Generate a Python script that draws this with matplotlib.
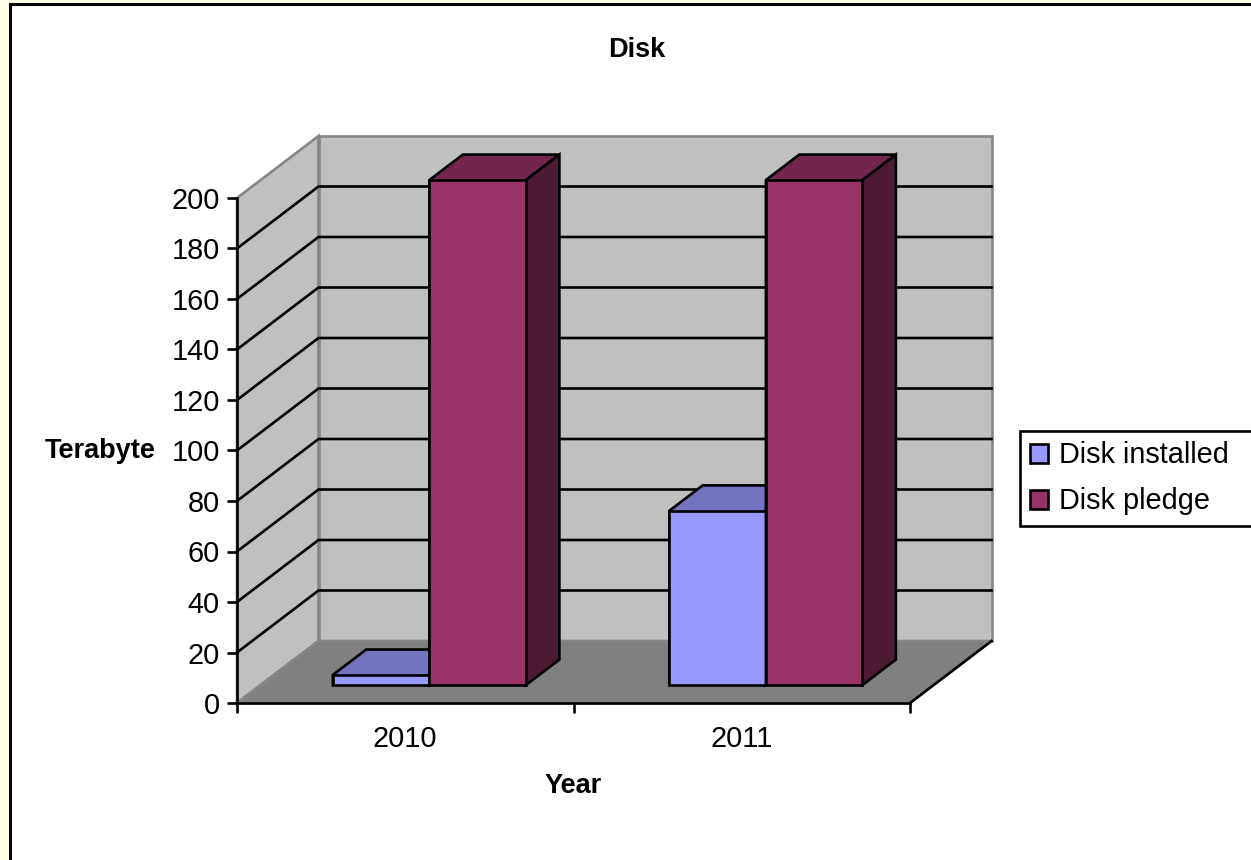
import matplotlib
matplotlib.use("Agg")
import matplotlib.pyplot as plt
from matplotlib.patches import Polygon, Rectangle

# Chart data
years = ["2010", "2011"]
series_names = ["Disk installed", "Disk pledge"]
disk_installed = [4, 69]
disk_pledge = [200, 200]
value_ticks = list(range(0, 201, 20))

# Colours: front, top and side shading for each series
installed_faces = ("#9999FF", "#7373BF", "#4D4D80")
pledge_faces = ("#993366", "#73264D", "#4D1A33")
WALL = "#C0C0C0"
FLOOR = "#808080"
EDGE_GREY = "#868686"
PAGE = "#FFFFE6"

W, H = 1251, 860
LW = 1.9
plt.rcParams["font.family"] = ["Liberation Sans", "DejaVu Sans"]

fig = plt.figure(figsize=(W / 100, H / 100), dpi=100, facecolor=PAGE)
# The white chart area runs off the right and bottom of the page
fig.patches.append(Rectangle((10 / W, -0.02), 1.02, 1.02 - 4 / H,
                             transform=fig.transFigure, facecolor="white",
                             edgecolor="black", linewidth=2.2, zorder=-5))

# Axes sit on the front plane of the box
ax = fig.add_axes([237 / W, 1 - 703 / H, 673 / W, 505 / H])
ax.set_xlim(0, len(years))
ax.set_ylim(0, 200)
ax.patch.set_alpha(0)

# Oblique projection: shift per unit of depth (0 front, 1 back) in data units
PX_X = 673 / len(years)
PX_Y = 505 / 200
DX = 81.5 / PX_X
DY = 62 / PX_Y


def project(x, y, depth=0.0):
    return (x + DX * depth, y + DY * depth)


def poly(points, **kw):
    kw.setdefault("linewidth", LW)
    kw.setdefault("joinstyle", "miter")
    ax.add_patch(Polygon(points, closed=True, clip_on=False, **kw))


x_max = len(years)
# Side wall, back wall and floor
poly([project(0, 0), project(0, 200), project(0, 200, 1), project(0, 0, 1)],
     facecolor=WALL, edgecolor=EDGE_GREY, zorder=1)
poly([project(0, 0, 1), project(0, 200, 1), project(x_max, 200, 1), project(x_max, 0, 1)],
     facecolor=WALL, edgecolor=EDGE_GREY, zorder=1)
poly([project(0, 0), project(0, 0, 1), project(x_max, 0, 1), project(x_max, 0)],
     facecolor=FLOOR, edgecolor=EDGE_GREY, zorder=2)
# Right floor edge is black
ax.plot(*zip(project(x_max, 0), project(x_max, 0, 1)), color="black", lw=LW,
        clip_on=False, zorder=3)

# Gridlines wrap from the side wall onto the back wall
for v in value_ticks[1:-1]:
    ax.plot(*zip(project(0, v), project(0, v, 1), project(x_max, v, 1)),
            color="black", lw=LW, clip_on=False, zorder=3,
            solid_joinstyle="miter")

# Bars
GAP = 0.2145
BAR_W = 0.287
D0, D1 = 0.29, 0.70


def bar3d(x0, value, faces, z):
    x1 = x0 + BAR_W
    poly([project(x0, 0, D0), project(x0, value, D0), project(x0, value, D1),
          project(x1, value, D1), project(x1, value, D0)],
         facecolor=faces[1], edgecolor="black", zorder=z)
    poly([project(x1, 0, D0), project(x1, value, D0), project(x1, value, D1),
          project(x1, 0, D1)], facecolor=faces[2], edgecolor="black", zorder=z)
    poly([project(x0, 0, D0), project(x0, value, D0), project(x1, value, D0),
          project(x1, 0, D0)], facecolor=faces[0], edgecolor="black", zorder=z)


for i in range(len(years)):
    bar3d(i + GAP, disk_installed[i], installed_faces, 4 + 2 * i)
    bar3d(i + GAP + BAR_W, disk_pledge[i], pledge_faces, 5 + 2 * i)

# Axis lines and ticks
for side in ("top", "right"):
    ax.spines[side].set_visible(False)
for side in ("left", "bottom"):
    ax.spines[side].set_linewidth(LW)
    ax.spines[side].set_zorder(8)
    ax.spines[side].set_capstyle("projecting")

FS = 20.8
ax.set_yticks(value_ticks)
ax.tick_params(axis="y", length=7.5, width=LW, labelsize=FS, pad=5)
ax.set_xticks(range(len(years) + 1))
ax.set_xticklabels([])
ax.tick_params(axis="x", which="major", length=7.5, width=LW)
ax.set_xticks([i + 0.5 for i in range(len(years))], minor=True)
ax.set_xticklabels(years, minor=True)
ax.tick_params(axis="x", which="minor", length=0, labelsize=FS, pad=16)

# Titles
TITLE_FS = 19.5
fig.text(637 / W, 1 - 50 / H, "Disk", fontsize=TITLE_FS, fontweight="bold",
         ha="center", va="center")
ax.set_xlabel("Year", fontsize=TITLE_FS, fontweight="bold")
ax.xaxis.set_label_coords(0.5, -(786 - 703) / 505, transform=ax.transAxes)
ax.xaxis.label.set_va("center")
ax.set_ylabel("Terabyte", fontsize=TITLE_FS, fontweight="bold", rotation=0,
              ha="center", va="center")
ax.yaxis.set_label_coords((100 - 237) / 673, (703 - 451) / 505, transform=ax.transAxes)

# Legend box runs past the right edge of the page
handles = [Rectangle((0, 0), 1, 1, facecolor=installed_faces[0], edgecolor="black", linewidth=LW),
           Rectangle((0, 0), 1, 1, facecolor=pledge_faces[0], edgecolor="black", linewidth=LW)]
leg = fig.legend(handles, series_names, loc="upper left", mode="expand",
                 bbox_to_anchor=(1020 / W, 1 - 525 / H, 300 / W, 94 / H),
                 borderaxespad=0, fontsize=FS, handlelength=0.62, handleheight=0.62,
                 handletextpad=0.36, borderpad=0.36, labelspacing=0.62,
                 fancybox=False, framealpha=1, edgecolor="black")
leg.get_frame().set_linewidth(LW)

fig.savefig("out.png", dpi=100, facecolor=PAGE)
